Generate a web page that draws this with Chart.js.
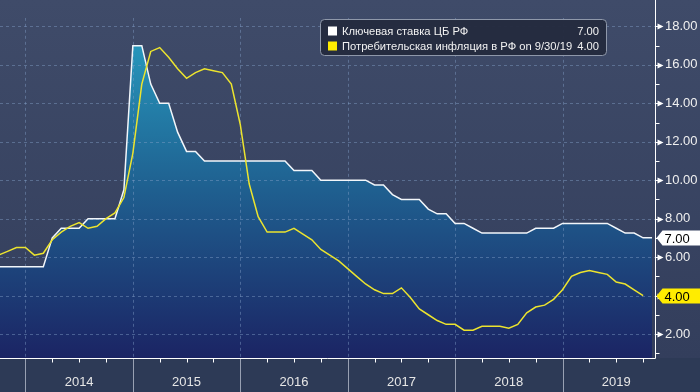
<!DOCTYPE html>
<html><head><meta charset="utf-8">
<script src="https://cdn.jsdelivr.net/npm/chart.js@4.4.1/dist/chart.umd.min.js"></script>
<style>
html,body{margin:0;padding:0;background:#2d3a56;}
#wrap{position:relative;width:700px;height:392px;}
canvas{display:block;}
</style>
</head><body>
<div id="wrap"><canvas id="c" width="700" height="392"></canvas></div>
<script>
// ---- data ----
const monthEnds = [
 '2013-09','2013-10','2013-11','2013-12',
 '2014-01','2014-02','2014-03','2014-04','2014-05','2014-06','2014-07','2014-08','2014-09','2014-10','2014-11','2014-12',
 '2015-01','2015-02','2015-03','2015-04','2015-05','2015-06','2015-07','2015-08','2015-09','2015-10','2015-11','2015-12',
 '2016-01','2016-02','2016-03','2016-04','2016-05','2016-06','2016-07','2016-08','2016-09','2016-10','2016-11','2016-12',
 '2017-01','2017-02','2017-03','2017-04','2017-05','2017-06','2017-07','2017-08','2017-09','2017-10','2017-11','2017-12',
 '2018-01','2018-02','2018-03','2018-04','2018-05','2018-06','2018-07','2018-08','2018-09','2018-10','2018-11','2018-12',
 '2019-01','2019-02','2019-03','2019-04','2019-05','2019-06','2019-07','2019-08','2019-09','2019-10'
];
const keyRate = [
 5.5,5.5,5.5,5.5,
 5.5,5.5,7.0,7.5,7.5,7.5,8.0,8.0,8.0,8.0,9.5,17.0,
 17.0,15.0,14.0,14.0,12.5,11.5,11.5,11.0,11.0,11.0,11.0,11.0,
 11.0,11.0,11.0,11.0,11.0,10.5,10.5,10.5,10.0,10.0,10.0,10.0,
 10.0,10.0,9.75,9.75,9.25,9.0,9.0,9.0,8.5,8.25,8.25,7.75,
 7.75,7.5,7.25,7.25,7.25,7.25,7.25,7.25,7.5,7.5,7.5,7.75,
 7.75,7.75,7.75,7.75,7.75,7.5,7.25,7.25,7.0,7.0
];
const cpi = [
 6.1,6.3,6.5,6.5,
 6.1,6.2,6.9,7.3,7.6,7.8,7.5,7.6,8.0,8.3,9.1,11.4,
 15.0,16.7,16.9,16.4,15.8,15.3,15.6,15.8,15.7,15.6,15.0,12.9,
 9.8,8.1,7.3,7.3,7.3,7.5,7.2,6.9,6.4,6.1,5.8,5.4,
 5.0,4.6,4.3,4.1,4.1,4.4,3.9,3.3,3.0,2.7,2.5,2.5,
 2.2,2.2,2.4,2.4,2.4,2.3,2.5,3.1,3.4,3.5,3.8,4.3,
 5.0,5.2,5.3,5.2,5.1,4.7,4.6,4.3,4.0
];
const yearLabels = ['2014','2015','2016','2017','2018','2019'];
const yMajorTicks = [2,4,6,8,10,12,14,16,18];
const yMinorTicks = [1,3,5,7,9,11,13,15,17];
const seriesNames = ['Ключевая ставка ЦБ РФ','Потребительская инфляция в РФ on 9/30/19'];
const seriesColors = ['#ffffff','#ffec00'];

// ---- helpers ----
const monthIndex = s => (parseInt(s.slice(0,4),10) - 2014) * 12 + parseInt(s.slice(5,7),10);
const keyPts = keyRate.map((v,i) => ({x: monthIndex(monthEnds[i]), y: v}));
const cpiPts = cpi.map((v,i) => ({x: monthIndex(monthEnds[i]), y: v}));
const lastKey = keyRate[keyRate.length-1];
const lastCpi = cpi[cpi.length-1];
const FONT = '"Liberation Sans", Arial, sans-serif';

function line(ctx,x1,y1,x2,y2){ctx.beginPath();ctx.moveTo(x1,y1);ctx.lineTo(x2,y2);ctx.stroke();}

const deco = {
  id: 'deco',
  beforeDraw(chart){
    const {ctx, chartArea:a} = chart;
    ctx.save();
    const g = ctx.createLinearGradient(0,0,0,a.bottom);
    g.addColorStop(0,'#3f4b69'); g.addColorStop(1,'#333e5c');
    ctx.fillStyle = g; ctx.fillRect(0,0,chart.width,a.bottom);
    ctx.fillStyle = '#2d3a56'; ctx.fillRect(0,a.bottom,chart.width,chart.height-a.bottom);
    ctx.restore();
  },
  beforeDatasetsDraw(chart){
    const {ctx, chartArea:a, scales:{x,y}} = chart;
    ctx.save();
    ctx.beginPath(); ctx.rect(a.left,a.top,a.width,a.height); ctx.clip();
    ctx.setLineDash([3,3]);
    ctx.strokeStyle = 'rgba(130,160,200,0.45)'; ctx.lineWidth = 1;
    yMajorTicks.forEach(v => { const py = Math.round(y.getPixelForValue(v))+0.5; line(ctx,a.left,py,a.right,py); });
    yearLabels.forEach(yr => { const px = Math.round(x.getPixelForValue((+yr-2014)*12))+0.5; line(ctx,px,a.top,px,a.bottom); });
    ctx.restore();
  },
  afterDraw(chart){
    const {ctx, chartArea:a, scales:{x,y}} = chart;
    ctx.save();
    const ax = a.right + 0.5, by = a.bottom + 0.5;
    // year separators
    ctx.strokeStyle = '#98a0b2'; ctx.lineWidth = 1;
    yearLabels.forEach(yr => { const px = Math.round(x.getPixelForValue((+yr-2014)*12))+0.5; line(ctx,px,by,px,chart.height); });
    // quarter ticks
    ctx.strokeStyle = '#ffffff';
    yearLabels.forEach(yr => { [3,6,9].forEach(q => {
      const m = (+yr-2014)*12+q; if (m > x.max) return;
      const px = Math.round(x.getPixelForValue(m))+0.5; line(ctx,px,by,px,by+4); }); });
    // axis lines
    line(ctx,0,by,ax,by); line(ctx,ax,0,ax,by);
    // minor y ticks
    yMinorTicks.forEach(v => { const py = Math.round(y.getPixelForValue(v))+0.5; line(ctx,ax,py,ax+4,py); });
    // major tick arrows
    ctx.fillStyle = '#ffffff';
    yMajorTicks.forEach(v => { const py = Math.round(y.getPixelForValue(v))+0.5;
      line(ctx,ax,py,ax+3,py);
      ctx.beginPath(); ctx.moveTo(ax+2,py-3); ctx.lineTo(ax+8,py); ctx.lineTo(ax+2,py+3); ctx.closePath(); ctx.fill(); });
    // value badges
    function badge(val, fill){
      const py = Math.round(y.getPixelForValue(val));
      ctx.fillStyle = fill;
      ctx.beginPath(); ctx.moveTo(ax+1,py); ctx.lineTo(ax+7,py-7.5); ctx.lineTo(chart.width,py-7.5);
      ctx.lineTo(chart.width,py+7.5); ctx.lineTo(ax+7,py+7.5); ctx.closePath(); ctx.fill();
      ctx.fillStyle = '#000000'; ctx.font = '13px '+FONT; ctx.textBaseline = 'middle'; ctx.textAlign = 'left';
      ctx.fillText(val.toFixed(2), ax+9, py+1);
    }
    badge(lastKey, seriesColors[0]);
    badge(lastCpi, seriesColors[1]);
    // legend
    const L = 320.5, T = 19.5, R = 606.5, B = 55.5, r = 4;
    ctx.beginPath();
    ctx.moveTo(L+r,T); ctx.lineTo(R-r,T); ctx.quadraticCurveTo(R,T,R,T+r); ctx.lineTo(R,B-r);
    ctx.quadraticCurveTo(R,B,R-r,B); ctx.lineTo(L+r,B); ctx.quadraticCurveTo(L,B,L,B-r); ctx.lineTo(L,T+r);
    ctx.quadraticCurveTo(L,T,L+r,T); ctx.closePath();
    ctx.fillStyle = 'rgba(36,43,62,0.96)'; ctx.fill();
    ctx.strokeStyle = '#8f98aa'; ctx.lineWidth = 1; ctx.stroke();
    const vals = [lastKey, lastCpi];
    [31, 46].forEach((cy,i) => {
      ctx.fillStyle = seriesColors[i]; ctx.fillRect(328, cy-4.5, 9, 9);
      ctx.fillStyle = '#f2f2f2'; ctx.font = '11.2px '+FONT; ctx.textBaseline = 'middle';
      ctx.textAlign = 'left'; ctx.fillText(seriesNames[i], 342, cy+0.5);
      ctx.textAlign = 'right'; ctx.fillText(vals[i].toFixed(2), 599, cy+0.5);
    });
    ctx.restore();
  }
};

new Chart(document.getElementById('c'), {
  type: 'line',
  data: { datasets: [
    { label: seriesNames[0], data: keyPts, order: 2, borderColor: '#f2f6fa', borderWidth: 1.5,
      pointRadius: 0, tension: 0, fill: 'start',
      backgroundColor: (c) => { const ch = c.chart, a = ch.chartArea; if (!a) return 'rgba(0,0,0,0)';
        const g = ch.ctx.createLinearGradient(0,a.top,0,a.bottom);
        g.addColorStop(0,'rgb(40,160,195)'); g.addColorStop(0.5,'rgb(31,96,144)'); g.addColorStop(1,'rgb(27,36,100)');
        return g; } },
    { label: seriesNames[1], data: cpiPts, order: 1, borderColor: '#ece42e', borderWidth: 1.5,
      pointRadius: 0, tension: 0, fill: false }
  ]},
  options: {
    responsive: false, animation: false, events: [],
    layout: { padding: 0 },
    plugins: { legend: {display:false}, tooltip: {enabled:false}, filler: {drawTime: 'beforeDatasetsDraw'} },
    scales: {
      x: { type: 'linear', min: -2.84, max: 70.33,
        afterBuildTicks: s => { s.ticks = yearLabels.map(yr => ({value: (+yr-2014)*12 + 6})); },
        afterFit: s => { s.height = 34; },
        grid: {display:false, drawTicks:false}, border: {display:false},
        ticks: { autoSkip:false, maxRotation:0, padding: 17, color:'#e6e6e6',
          font: {family: FONT, size: 13}, callback: (v,i) => yearLabels[i] } },
      y: { position: 'right', min: 0.75, max: 18.45,
        afterBuildTicks: s => { s.ticks = yMajorTicks.map(v => ({value: v})); },
        afterFit: s => { s.width = 45; },
        grid: {display:false, drawTicks:false}, border: {display:false},
        ticks: { autoSkip:false, padding: 10, color:'#f0f0f0', crossAlign: 'near',
          font: {family: FONT, size: 13}, callback: v => v.toFixed(2) } }
    }
  },
  plugins: [deco]
});
</script>
</body></html>
